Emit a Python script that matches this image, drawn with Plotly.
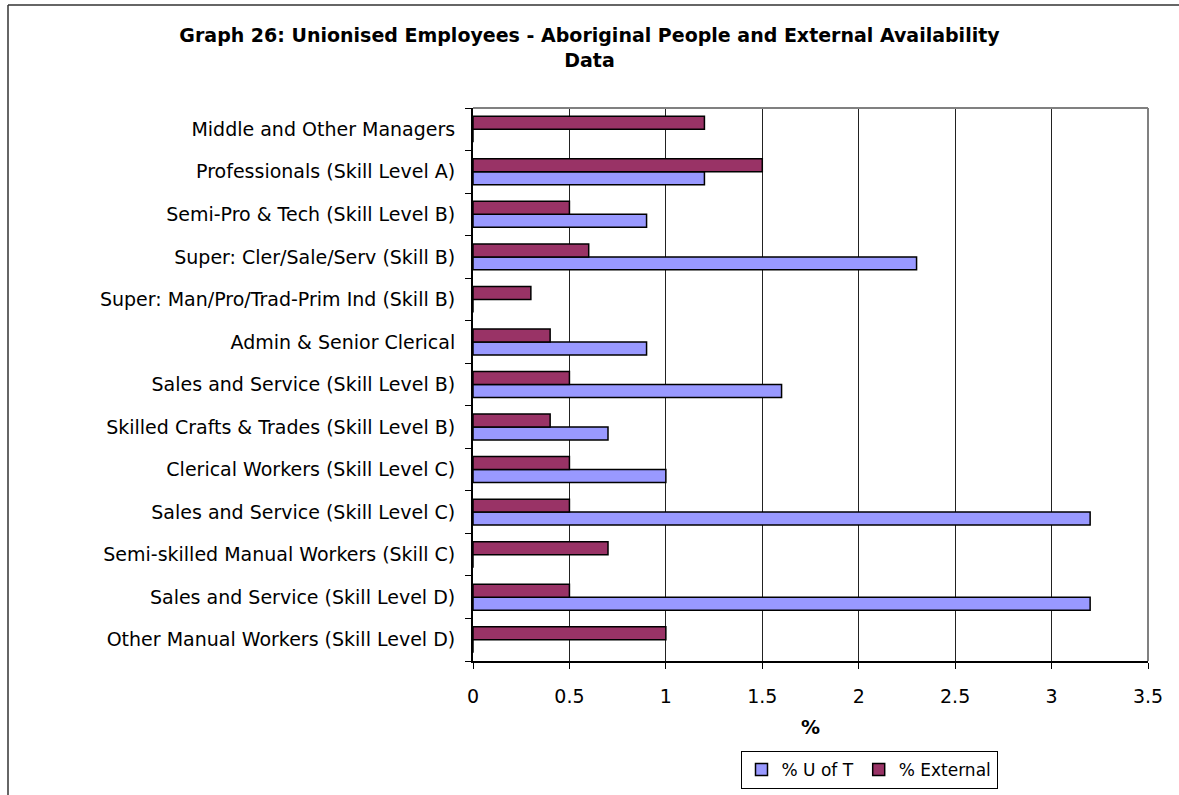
import plotly.graph_objects as go

# categories listed top to bottom as in the chart
categories = [
    "Middle and Other Managers",
    "Professionals (Skill Level A)",
    "Semi-Pro & Tech (Skill Level B)",
    "Super: Cler/Sale/Serv (Skill B)",
    "Super: Man/Pro/Trad-Prim Ind (Skill B)",
    "Admin & Senior Clerical",
    "Sales and Service (Skill Level B)",
    "Skilled Crafts & Trades (Skill Level B)",
    "Clerical Workers (Skill Level C)",
    "Sales and Service (Skill Level C)",
    "Semi-skilled Manual Workers (Skill C)",
    "Sales and Service (Skill Level D)",
    "Other Manual Workers (Skill Level D)",
]
u_of_t = [0, 1.2, 0.9, 2.3, 0, 0.9, 1.6, 0.7, 1.0, 3.2, 0, 3.2, 0]
external = [1.2, 1.5, 0.5, 0.6, 0.3, 0.4, 0.5, 0.4, 0.5, 0.5, 0.7, 0.5, 1.0]
x_ticks = [0, 0.5, 1, 1.5, 2, 2.5, 3, 3.5]

FONT = "DejaVu Sans, Arial, sans-serif"

fig = go.Figure()
fig.add_trace(go.Bar(
    y=categories, x=u_of_t, orientation="h", name="% U of T",
    marker=dict(color="#9999FF", line=dict(color="black", width=1.5)),
))
fig.add_trace(go.Bar(
    y=categories, x=external, orientation="h", name="% External",
    marker=dict(color="#993366", line=dict(color="black", width=1.5)),
))

# plot area in pixels: left 473, right 1148, top 108, bottom 661
L, R, T, B = 473, 1148, 108, 661
W, H = R - L, B - T

def px(x):
    return (x - L) / W

def py(y):
    return (B - y) / H

fig.update_layout(
    width=1179, height=795,
    margin=dict(l=L, r=1179 - R, t=T, b=795 - B, autoexpand=False),
    paper_bgcolor="white", plot_bgcolor="white",
    barmode="group", bargap=0.39, bargroupgap=0,
    font=dict(family=FONT, size=19, color="black"),
    title=dict(
        text="<b>Graph 26: Unionised Employees - Aboriginal People and External Availability<br>Data</b>",
        x=0.5, xref="container", xanchor="center",
        y=1 - 42 / 795, yanchor="top",
        font=dict(family=FONT, size=19),
    ),
    legend=dict(
        orientation="h", x=px(869), xanchor="center", y=py(789), yanchor="bottom",
        bordercolor="black", borderwidth=1, font=dict(size=17),
        traceorder="normal", itemwidth=30,
    ),
    showlegend=True,
)

fig.update_xaxes(
    range=[0, 3.5], tickvals=x_ticks, ticktext=[f"{v:g}" for v in x_ticks],
    showgrid=True, gridcolor="#222222", gridwidth=1,
    showline=True, linecolor="black", linewidth=2,
    ticks="outside", ticklen=6, tickcolor="black",
    ticklabelstandoff=11, automargin=False,
    title=dict(text="<b>%</b>", standoff=15, font=dict(size=19)),
    zeroline=False, mirror=False,
)
fig.update_yaxes(
    categoryorder="array", categoryarray=categories[::-1],
    showline=True, linecolor="black", linewidth=2,
    ticks="outside", ticklen=6, tickcolor="black", tickson="boundaries",
    ticklabelstandoff=12, showgrid=False, automargin=False,
)

# plot area border (top and right, grey)
fig.add_shape(type="line", xref="paper", yref="paper", x0=0, x1=1, y0=1, y1=1,
              line=dict(color="#808080", width=2))
fig.add_shape(type="line", xref="paper", yref="paper", x0=1, x1=1, y0=0, y1=1,
              line=dict(color="#808080", width=2))

# chart area frame (left and top edges visible)
fig.add_shape(type="line", xref="paper", yref="paper",
              x0=px(8), x1=px(8), y0=py(800), y1=py(5),
              line=dict(color="#333333", width=1.5))
fig.add_shape(type="line", xref="paper", yref="paper",
              x0=px(8), x1=px(1185), y0=py(5), y1=py(5),
              line=dict(color="#333333", width=1.5))

# remove the page's default body margin so the figure sits at the top-left
fig.write_html("out.html", config={"displayModeBar": False},
               post_script="document.body.style.margin='0';")
